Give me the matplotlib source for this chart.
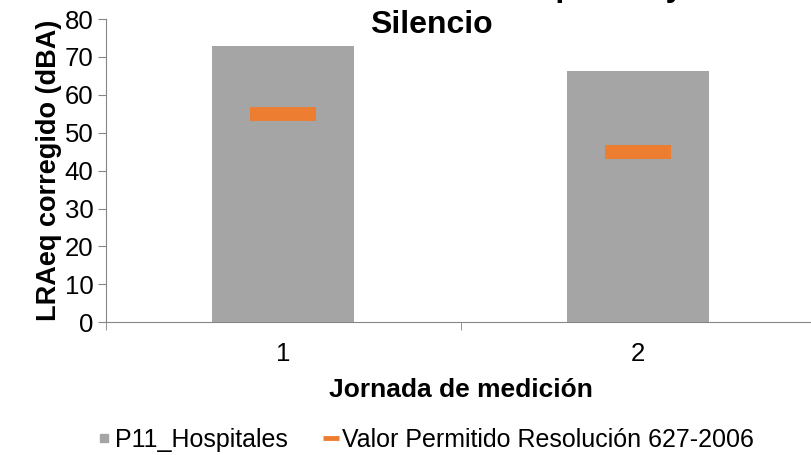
import matplotlib.pyplot as plt
import matplotlib as mpl
from matplotlib.ticker import FixedLocator

jornadas = ['1', '2']
lraeq = [72.9, 66.3]
permitido = [55, 45]

mpl.rcParams['font.family'] = ['Liberation Sans', 'DejaVu Sans']
mpl.rcParams['font.size'] = 18.5

fig = plt.figure(figsize=(8.12, 4.55), dpi=100)
ax = fig.add_axes([0.1305, 0.292, 0.874, 0.666])

x = list(range(len(jornadas)))
bars = ax.bar(x, lraeq, width=0.4, color='#A5A5A5', label='P11_Hospitales', zorder=2)
line, = ax.plot(x, permitido, linestyle='none', marker='_', markersize=47,
                markeredgewidth=10, color='#ED7D31',
                label='Valor Permitido Resolución 627-2006', zorder=3)

ax.set_xlim(-0.5, 1.5)
ax.set_ylim(0, 80)
ax.set_yticks(range(0, 81, 10))
ax.set_xticks(x)
ax.set_xticklabels(jornadas)
ax.xaxis.set_minor_locator(FixedLocator([-0.5, 0.5, 1.5]))
ax.tick_params(axis='x', which='major', length=0, pad=14)
ax.tick_params(axis='x', which='minor', length=6, color='#868686', direction='out')
ax.tick_params(axis='y', length=6, color='#868686', pad=3)
for side in ['top', 'right']:
    ax.spines[side].set_visible(False)
for side in ['left', 'bottom']:
    ax.spines[side].set_color('#868686')

ax.set_ylabel('LRAeq corregido (dBA)', fontsize=19.5, fontweight='bold', labelpad=2)
ax.set_xlabel('Jornada de medición', fontsize=19, fontweight='bold', labelpad=9)

# title: the first line sits above the top edge, only "Silencio" is seen
fig.text(0.531, 1.009, 'Nivel de Ruido Zona Hospitales y', ha='center',
         va='baseline', fontsize=23, fontweight='bold')
fig.text(0.531, 0.928, 'Silencio', ha='center', va='baseline',
         fontsize=23, fontweight='bold')

# legend handles: small square for bars, short dash for the limit
sq = mpl.lines.Line2D([], [], linestyle='none', marker='s', markersize=6,
                      color='#A5A5A5')
dash = mpl.lines.Line2D([], [], linestyle='none', marker='_', markersize=11,
                        markeredgewidth=3.5, color='#ED7D31')
fig.legend([sq, dash], [bars.get_label(), line.get_label()], loc='center left',
           ncol=2, bbox_to_anchor=(0.0906, 0.033), frameon=False, fontsize=18,
           handlelength=0.6, handletextpad=0.14, columnspacing=1.45,
           borderpad=0.4)

fig.savefig('out.png', dpi=100)
